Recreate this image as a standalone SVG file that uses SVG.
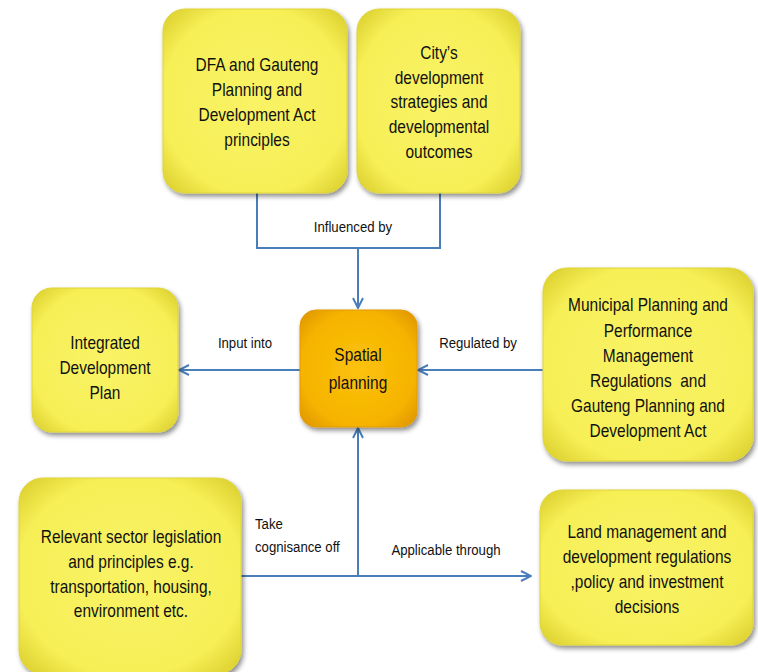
<svg xmlns="http://www.w3.org/2000/svg" width="758" height="672" viewBox="0 0 758 672">
<style>
.t{font-family:"Liberation Sans",Arial,sans-serif;font-size:18px;fill:#111;text-anchor:middle}
.l{font-family:"Liberation Sans",Arial,sans-serif;font-size:15px;fill:#111}
.c{fill:none;stroke:#4A7EBB;stroke-width:2}
.y{fill:url(#gy);stroke:#DED43A;stroke-width:1;filter:url(#sh)}
.o{fill:url(#go);stroke:#E39A00;stroke-width:1;filter:url(#sh)}
</style>
<defs>
<radialGradient id="gy" cx="50%" cy="50%" r="65%">
<stop offset="0" stop-color="#F9F366"/>
<stop offset="0.78" stop-color="#F6EF56"/>
<stop offset="1" stop-color="#E0D535"/>
</radialGradient>
<radialGradient id="go" cx="50%" cy="50%" r="65%">
<stop offset="0" stop-color="#FBC20C"/>
<stop offset="0.75" stop-color="#F6B300"/>
<stop offset="1" stop-color="#E29A00"/>
</radialGradient>
<filter id="sh" x="-10%" y="-10%" width="125%" height="125%">
<feGaussianBlur in="SourceAlpha" stdDeviation="2.5"/>
<feOffset dx="2" dy="3" result="b"/>
<feComponentTransfer><feFuncA type="linear" slope="0.45"/></feComponentTransfer>
<feMerge><feMergeNode/><feMergeNode in="SourceGraphic"/></feMerge>
</filter>
<marker id="ar" viewBox="0 0 12 12" refX="11" refY="6" markerWidth="12" markerHeight="12" markerUnits="userSpaceOnUse" orient="auto">
<path d="M1,1 L11,6 L1,11" fill="none" stroke="#4A7EBB" stroke-width="2"/>
</marker>
</defs>

<g id="connectors">
<path class="c" d="M257,193 V248 H440 V193"/>
<path class="c" d="M358,248 V308" marker-end="url(#ar)"/>
<path class="c" d="M300,370 H179" marker-end="url(#ar)"/>
<path class="c" d="M543,370 H418" marker-end="url(#ar)"/>
<path class="c" d="M358,576 V428" marker-end="url(#ar)"/>
<path class="c" d="M241,576 H531" marker-end="url(#ar)"/>
<g transform="translate(353 0) scale(0.88 1)"><text class="l" x="0" y="232" text-anchor="middle">Influenced by</text></g>
<g transform="translate(245 0) scale(0.88 1)"><text class="l" x="0" y="348" text-anchor="middle">Input into</text></g>
<g transform="translate(478 0) scale(0.88 1)"><text class="l" x="0" y="348" text-anchor="middle">Regulated by</text></g>
<g transform="translate(255 0) scale(0.88 1)"><text class="l" x="0" y="529">Take</text>
<text class="l" x="0" y="552">cognisance off</text></g>
<g transform="translate(446 0) scale(0.88 1)"><text class="l" x="0" y="555" text-anchor="middle">Applicable through</text></g>
</g>

<g id="dfa">
<rect class="y" x="163" y="9" width="184" height="184" rx="22"/>
<g transform="translate(257 0) scale(0.86 1)">
<text class="t" x="0" y="71">DFA and Gauteng</text>
<text class="t" x="0" y="96">Planning and</text>
<text class="t" x="0" y="121">Development Act</text>
<text class="t" x="0" y="146">principles</text>
</g>
</g>

<g id="city">
<rect class="y" x="357" y="9" width="163" height="184" rx="22"/>
<g transform="translate(439 0) scale(0.86 1)">
<text class="t" x="0" y="59">City’s</text>
<text class="t" x="0" y="84">development</text>
<text class="t" x="0" y="108">strategies and</text>
<text class="t" x="0" y="133">developmental</text>
<text class="t" x="0" y="158">outcomes</text>
</g>
</g>

<g id="spatial">
<rect class="o" x="300" y="310" width="117" height="117" rx="16"/>
<g transform="translate(358 0) scale(0.86 1)">
<text class="t" x="0" y="361">Spatial</text>
<text class="t" x="0" y="389">planning</text>
</g>
</g>

<g id="idp">
<rect class="y" x="32" y="288" width="146" height="144" rx="20"/>
<g transform="translate(105 0) scale(0.86 1)">
<text class="t" x="0" y="349">Integrated</text>
<text class="t" x="0" y="374">Development</text>
<text class="t" x="0" y="399">Plan</text>
</g>
</g>

<g id="municipal">
<rect class="y" x="543" y="268" width="210" height="193" rx="24"/>
<g transform="translate(648 0) scale(0.86 1)">
<text class="t" x="0" y="311">Municipal Planning and</text>
<text class="t" x="0" y="337">Performance</text>
<text class="t" x="0" y="362">Management</text>
<text class="t" x="0" y="387" xml:space="preserve">Regulations  and</text>
<text class="t" x="0" y="412">Gauteng Planning and</text>
<text class="t" x="0" y="437">Development Act</text>
</g>
</g>

<g id="sector">
<rect class="y" x="19" y="478" width="222" height="196" rx="24"/>
<g transform="translate(131 0) scale(0.86 1)">
<text class="t" x="0" y="543">Relevant sector legislation</text>
<text class="t" x="0" y="568">and principles e.g.</text>
<text class="t" x="0" y="593">transportation, housing,</text>
<text class="t" x="0" y="617">environment etc.</text>
</g>
</g>

<g id="land">
<rect class="y" x="540" y="490" width="213" height="155" rx="22"/>
<g transform="translate(647 0) scale(0.86 1)">
<text class="t" x="0" y="538">Land management and</text>
<text class="t" x="0" y="563">development regulations</text>
<text class="t" x="0" y="588">,policy and investment</text>
<text class="t" x="0" y="613">decisions</text>
</g>
</g>
</svg>
